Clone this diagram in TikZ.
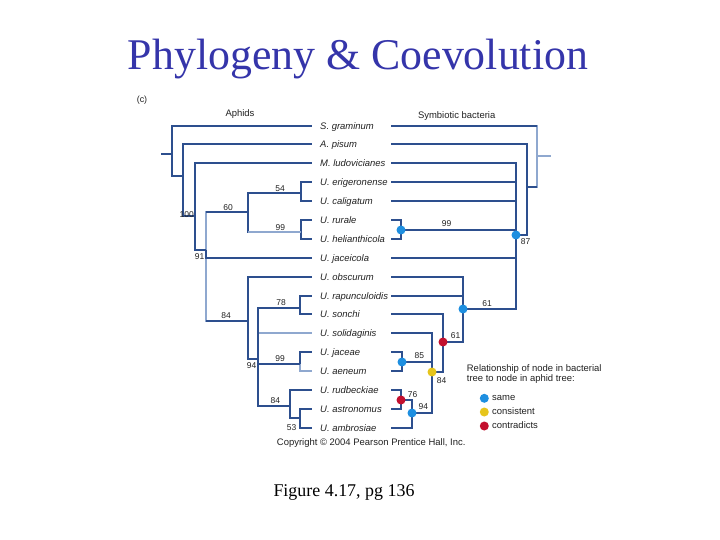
\documentclass[tikz,border=0pt]{standalone}
\usepackage{fontspec}
\setmainfont{Liberation Serif}
\setsansfont{Liberation Sans}
\usepackage{xcolor}
\usepackage{tikz}
\usetikzlibrary{positioning}
\definecolor{titleblue}{HTML}{3535AA}
\definecolor{treeblue}{HTML}{2D4F8E}
\definecolor{treepale}{HTML}{8FA8CF}
\definecolor{sameblue}{HTML}{1E8FE0}
\definecolor{consistgold}{HTML}{E6C51C}
\definecolor{contrared}{HTML}{C3102E}
\definecolor{inkgray}{HTML}{222222}
\newcommand{\figsans}{\sffamily\fontsize{9.5}{11}\selectfont}

\begin{document}
\begin{tikzpicture}[x=1bp, y=-1bp,
    taxon/.style={anchor=base west, inner sep=0pt, font=\figsans\itshape, text=inkgray},
    support/.style={inner sep=0pt, text height=6pt, text depth=0pt,
                    font=\sffamily\fontsize{8.5}{10}\selectfont, text=inkgray},
    heading/.style={inner sep=0pt, font=\figsans, text=inkgray},
    keylabel/.style={heading, text height=5pt, text depth=0pt},
    branch/.style={draw=treeblue, line width=1.6bp},
    palebranch/.style={draw=treepale, line width=1.6bp},
    dot/.style={circle, inner sep=0pt, minimum size=9bp}]

  \useasboundingbox[fill=white] (0,0) rectangle (720,540);

  % title and figure reference
  \node[anchor=base, inner sep=0pt, font=\fontsize{44}{50}\selectfont, text=titleblue]
    (title) at (358,70) {Phylogeny \& Coevolution};
  \node[anchor=base, inner sep=0pt, font=\fontsize{18}{22}\selectfont]
    (figref) at (344,496) {Figure 4.17, pg 136};

  % headings
  \node[heading, anchor=base, font=\sffamily\fontsize{9}{10}\selectfont] (panel) at (142,103) {(c)};
  \node[heading, anchor=base] (aphids) at (240,116.5) {Aphids};
  \node[heading, anchor=base] (bacteria) at (456.7,118.5) {Symbiotic bacteria};

  % taxa, with the tips of both trees
  \foreach \taxon [count=\i from 0] in {S. graminum, A. pisum, M. ludovicianes,
      U. erigeronense, U. caligatum, U. rurale, U. helianthicola, U. jaceicola,
      U. obscurum, U. rapunculoidis, U. sonchi, U. solidaginis, U. jaceae,
      U. aeneum, U. rudbeckiae, U. astronomus, U. ambrosiae} {
    \pgfmathsetmacro{\rowy}{round(125.5+18.9*\i)}
    \node[taxon] (t\i) at (320,\rowy+3.4) {\taxon};
    \coordinate (a\i) at (312,\rowy);
    \coordinate (b\i) at (391,\rowy);
  }

  % aphid tree
  \coordinate (hstub) at (161,154);
  \coordinate (h0) at (172,154);
  \coordinate (h1) at (183,176);
  \coordinate (h2) at (195,216);
  \coordinate (h3) at (206,250);
  \coordinate (h60) at (248,212);
  \coordinate (h54) at (301,193);
  \coordinate (h99) at (301,232);
  \coordinate (h84) at (248,321);
  \coordinate (h94) at (258,359);
  \coordinate (h78) at (300,308);
  \coordinate (h99b) at (300,364);
  \coordinate (h84b) at (290,406);
  \coordinate (h53) at (300,418);

  \draw[palebranch] (h3) |- (h60);
  \draw[palebranch] (h3) |- (h84);
  \draw[palebranch] (h94) |- (a11);
  \draw[palebranch] (h99b) |- (a13);
  \draw[branch] (hstub) -- (h0);
  \foreach \p/\c in {h0/a0, h0/h1, h1/a1, h1/h2, h2/a2, h2/h3, h3/a7,
      h60/h54, h54/a3, h54/a4, h60/h99, h99/a5, h99/a6, h84/a8, h84/h94,
      h94/h78, h78/a9, h78/a10, h94/h99b, h99b/a12, h94/h84b, h84b/a14,
      h84b/h53, h53/a15, h53/a16}
    \draw[branch] (\p) |- (\c);
  \draw[branch] (h3 |- h60) -- (h60);
  \draw[branch] (h3 |- h84) -- (h84);
  \draw[palebranch] (h60 |- h99) -- (h99);

  \node[support] (l100) at (186.7,214.5) {100};
  \node[support] (l91) at (199.7,257) {91};
  \node[support] (l60) at (228,208) {60};
  \node[support] (l54) at (280,189) {54};
  \node[support] (l99) at (280.3,228) {99};
  \node[support] (l84) at (226,315.5) {84};
  \node[support] (l78) at (281,302.5) {78};
  \node[support] (l99b) at (280,358.5) {99};
  \node[support] (l94) at (251.7,366) {94};
  \node[support] (l84b) at (275.3,400.5) {84};
  \node[support] (l53) at (291.7,428) {53};

  % bacterial tree
  \coordinate (sstub) at (551,156);
  \coordinate (s0) at (537,156);
  \coordinate (s1) at (527,187);
  \coordinate (s87) at (516,235);
  \coordinate (s99) at (401,230);
  \coordinate (s61) at (463,309);
  \coordinate (s61b) at (443,342);
  \coordinate (s84) at (432,372);
  \coordinate (s85) at (402,362);
  \coordinate (s94) at (412,413);
  \coordinate (s76) at (401,400);

  \draw[palebranch] (s0) -- (sstub);
  \draw[palebranch] (s0) |- (b0);
  \draw[palebranch] (s0) |- (s1);
  \foreach \p/\c in {s1/b1, s1/s87, s87/b2, s87/b3, s87/b4, s87/s99, s87/b7,
      s87/s61, s99/b5, s99/b6, s61/b8, s61/b9, s61/s61b, s61b/b10, s61b/s84,
      s84/b11, s84/s85, s84/s94, s85/b12, s85/b13, s94/s76, s94/b16,
      s76/b14, s76/b15}
    \draw[branch] (\p) |- (\c);
  \draw[branch] (s0 |- b0) -- (b0);
  \draw[branch] (s0 |- s1) -- (s1);

  \node[dot, fill=sameblue] (d99) at (s99) {};
  \node[dot, fill=sameblue] (d87) at (s87) {};
  \node[dot, fill=sameblue] (d61) at (s61) {};
  \node[dot, fill=contrared] (d61b) at (s61b) {};
  \node[dot, fill=consistgold] (d84) at (s84) {};
  \node[dot, fill=sameblue] (d85) at (s85) {};
  \node[dot, fill=contrared] (d76) at (s76) {};
  \node[dot, fill=sameblue] (d94) at (s94) {};

  \node[support] (m99) at (446.7,223.7) {99};
  \node[support] (m87) at (525.5,241.3) {87};
  \node[support] (m61) at (487.2,303.7) {61};
  \node[support] (m61b) at (455.5,336) {61};
  \node[support] (m84) at (441.7,380.3) {84};
  \node[support] (m85) at (419.3,355.5) {85};
  \node[support] (m76) at (412.7,394.5) {76};
  \node[support] (m94) at (423.3,407) {94};

  % legend
  \node[heading, anchor=base west] (legtop) at (466.7,371.3) {Relationship of node in bacterial};
  \node[heading, anchor=base west] (legbot) at (466.7,381.3) {tree to node in aphid tree:};
  \node[dot, fill=sameblue] (kSame) at (484.3,398.3) {};
  \node[dot, fill=consistgold] (kCons) at (484.3,412) {};
  \node[dot, fill=contrared] (kContra) at (484.3,426) {};
  \node[keylabel, right=3pt of kSame] (kSameText) {same};
  \node[keylabel, right=3pt of kCons] (kConsText) {consistent};
  \node[keylabel, right=3pt of kContra] (kContraText) {contradicts};

  \node[heading, anchor=base] (copyright) at (371.2,445) {Copyright © 2004 Pearson Prentice Hall, Inc.};
\end{tikzpicture}
\end{document}
